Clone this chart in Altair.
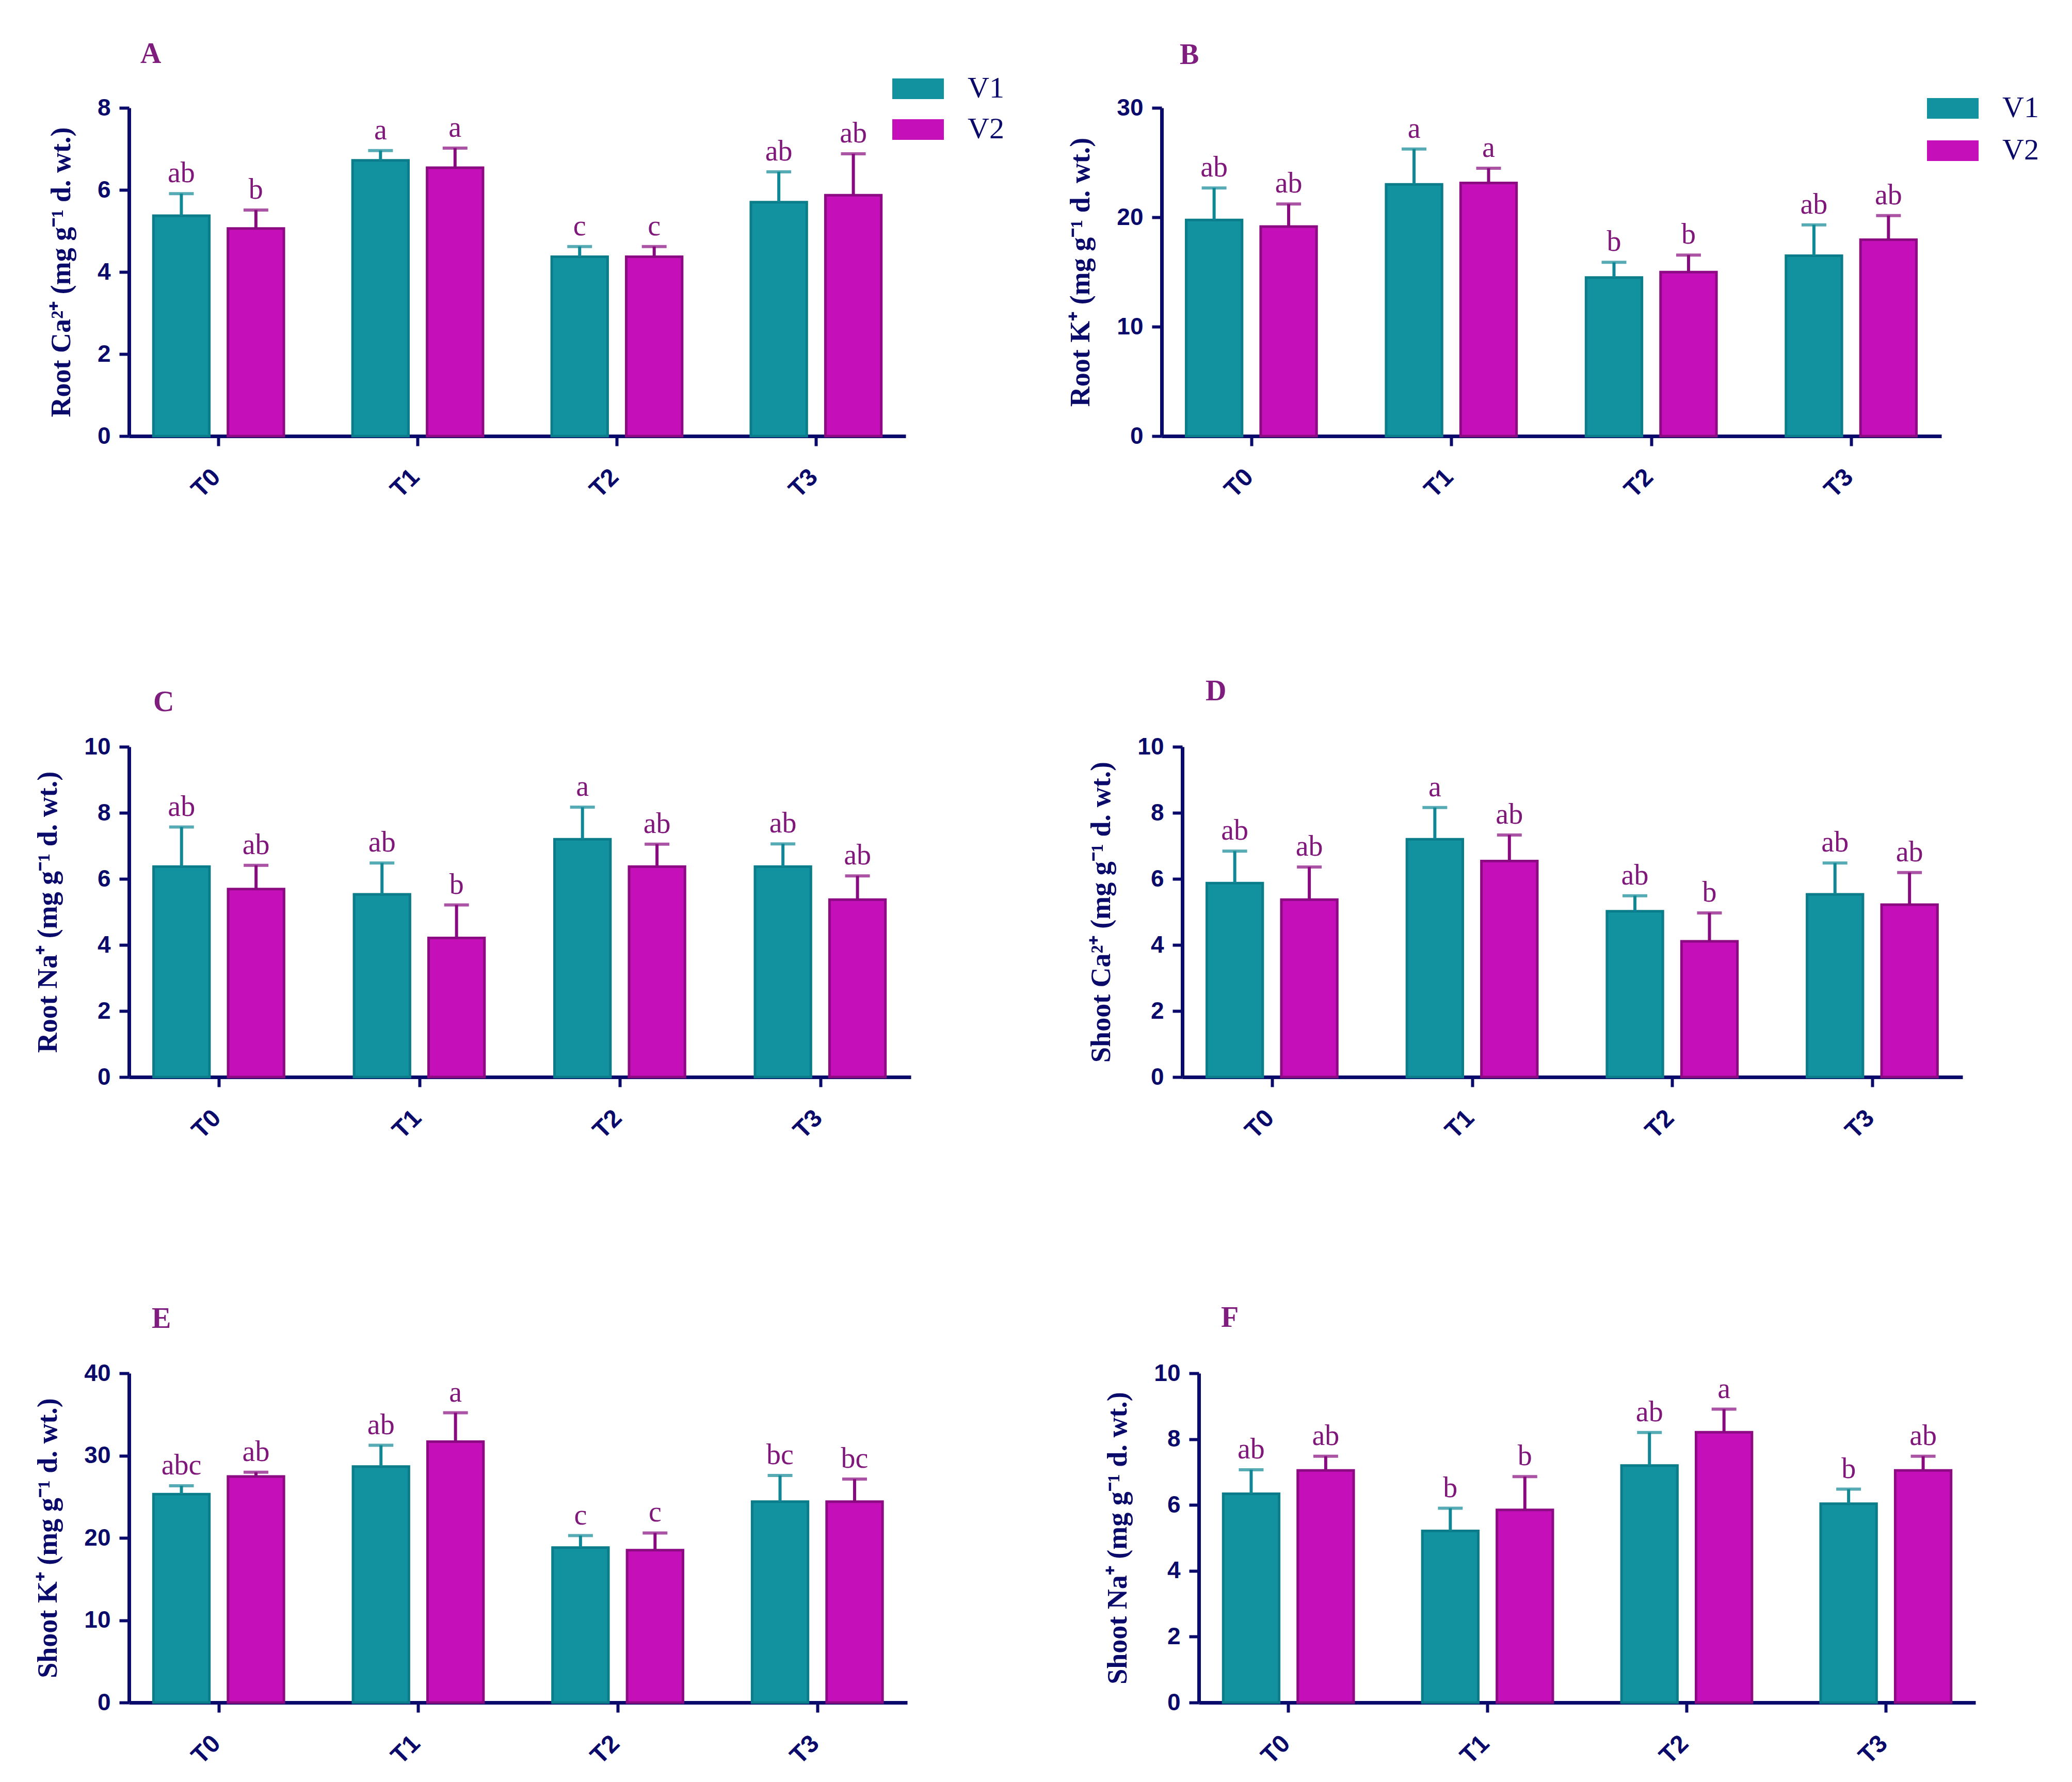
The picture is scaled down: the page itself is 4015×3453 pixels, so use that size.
import altair as alt
import pandas as pd

treatments = ["T0", "T1", "T2", "T3"]
varieties = ["V1", "V2"]

# Panel A - Root Ca2+
a_v1 = [5.37, 6.72, 4.37, 5.70]
a_v2 = [5.06, 6.54, 4.37, 5.87]
a_v1_sd = [0.54, 0.24, 0.25, 0.74]
a_v2_sd = [0.45, 0.48, 0.25, 1.01]
a_v1_let = ["ab", "a", "c", "ab"]
a_v2_let = ["b", "a", "c", "ab"]

# Panel B - Root K+
b_v1 = [19.75, 23.01, 14.49, 16.48]
b_v2 = [19.15, 23.14, 14.99, 17.95]
b_v1_sd = [2.93, 3.23, 1.39, 2.83]
b_v2_sd = [2.06, 1.34, 1.56, 2.20]
b_v1_let = ["ab", "a", "b", "ab"]
b_v2_let = ["ab", "a", "b", "ab"]

# Panel C - Root Na+
c_v1 = [6.37, 5.53, 7.20, 6.37]
c_v2 = [5.69, 4.21, 6.37, 5.37]
c_v1_sd = [1.20, 0.95, 0.97, 0.69]
c_v2_sd = [0.72, 1.00, 0.68, 0.72]
c_v1_let = ["ab", "ab", "a", "ab"]
c_v2_let = ["ab", "b", "ab", "ab"]

# Panel D - Shoot Ca2+
d_v1 = [5.87, 7.20, 5.02, 5.53]
d_v2 = [5.37, 6.54, 4.11, 5.22]
d_v1_sd = [0.97, 0.96, 0.47, 0.95]
d_v2_sd = [0.99, 0.79, 0.86, 0.97]
d_v1_let = ["ab", "a", "ab", "ab"]
d_v2_let = ["ab", "ab", "b", "ab"]

# Panel E - Shoot K+
e_v1 = [25.32, 28.67, 18.83, 24.40]
e_v2 = [27.46, 31.69, 18.51, 24.40]
e_v1_sd = [1.01, 2.58, 1.45, 3.18]
e_v2_sd = [0.52, 3.51, 2.09, 2.74]
e_v1_let = ["abc", "ab", "c", "bc"]
e_v2_let = ["ab", "a", "c", "bc"]

# Panel F - Shoot Na+
f_v1 = [6.34, 5.21, 7.20, 6.04]
f_v2 = [7.05, 5.85, 8.21, 7.05]
f_v1_sd = [0.73, 0.69, 1.00, 0.44]
f_v2_sd = [0.43, 1.01, 0.70, 0.43]
f_v1_let = ["ab", "b", "ab", "b"]
f_v2_let = ["ab", "b", "a", "ab"]

NAVY = "#0A0A6A"
TEAL = "#12919F"
TEAL_EDGE = "#0B7D8A"
MAGENTA = "#C50FB8"
MAGENTA_EDGE = "#8C0A82"
ERR_TEAL = "#0F8795"
ERR_PURPLE = "#870A7E"
LETTER = "#80177A"
PANEL = "#7F1D7F"
SERIF = "Liberation Serif"
SANS = "Liberation Sans"


def make_df(v1, v2, s1, s2, l1, l2):
    rows = []
    for i, t in enumerate(treatments):
        rows.append({"Treatment": t, "Variety": "V1", "Mean": v1[i],
                     "Upper": round(v1[i] + s1[i], 3), "Letter": l1[i]})
        rows.append({"Treatment": t, "Variety": "V2", "Mean": v2[i],
                     "Upper": round(v2[i] + s2[i], 3), "Letter": l2[i]})
    return pd.DataFrame(rows)


def panel(letter, ytitle, ymax, ystep, data, width, height,
          title_dx, title_offset, legend=None):
    df = make_df(*data)
    ticks = list(range(0, ymax + 1, ystep))

    def yenc(field):
        return alt.Y(field, scale=alt.Scale(domain=[0, ymax], nice=False, zero=True),
                     title=ytitle, axis=alt.Axis(values=ticks))

    base = alt.Chart(df).encode(
        x=alt.X("Treatment:N", sort=treatments, title=None,
                scale=alt.Scale(paddingInner=0.345, paddingOuter=0.1225)),
        xOffset=alt.XOffset("Variety:N", sort=varieties,
                            scale=alt.Scale(paddingInner=0.25, paddingOuter=0)),
    )
    bars = base.mark_bar(strokeWidth=5).encode(
        y=yenc("Mean:Q"),
        fill=alt.Fill("Variety:N", sort=varieties,
                      scale=alt.Scale(domain=varieties, range=[TEAL, MAGENTA]),
                      legend=legend),
        stroke=alt.Stroke("Variety:N", sort=varieties,
                          scale=alt.Scale(domain=varieties,
                                          range=[TEAL_EDGE, MAGENTA_EDGE]),
                          legend=None),
    )
    errc = alt.Color("Variety:N", sort=varieties,
                     scale=alt.Scale(domain=varieties, range=[ERR_TEAL, ERR_PURPLE]),
                     legend=None)
    rule = base.mark_rule(strokeWidth=6).encode(
        y=yenc("Mean:Q"),
        y2="Upper:Q",
        color=errc,
    )
    cap = base.mark_tick(size=48, thickness=6, orient="horizontal").encode(
        y=yenc("Upper:Q"),
        color=errc,
    )
    text = base.mark_text(font=SERIF, fontSize=56, color=LETTER,
                          baseline="alphabetic", dy=-22).encode(
        y=yenc("Upper:Q"),
        text="Letter:N",
    )
    return alt.layer(bars, rule, cap, text).properties(
        width=width, height=height,
        title=alt.TitleParams(letter, anchor="start", frame="group",
                              dx=title_dx, offset=title_offset, font=SERIF,
                              fontSize=56, fontWeight="bold", color=PANEL),
    )


def legend_at(x, y, row_pad):
    return alt.Legend(orient="none", legendX=x, legendY=y, title=None,
                      symbolType="M-1,-0.4H1V0.4H-1Z", symbolSize=10000,
                      symbolStrokeWidth=0, labelFont=SERIF, labelFontSize=58,
                      labelColor=NAVY, labelOffset=46, rowPadding=row_pad,
                      padding=0, direction="vertical")


A = panel("A", "Root Ca²⁺ (mg g⁻¹ d. wt.)", 8, 2,
          (a_v1, a_v2, a_v1_sd, a_v2_sd, a_v1_let, a_v2_let), 1505, 636, 22, -12,
          legend=legend_at(1479, -87, -3))
B = panel("B", "Root K⁺ (mg g⁻¹ d. wt.)", 30, 10,
          (b_v1, b_v2, b_v1_sd, b_v2_sd, b_v1_let, b_v2_let), 1511, 636, 35, 24,
          legend=legend_at(1483, -49, 3))
C = panel("C", "Root Na⁺ (mg g⁻¹ d. wt.)", 10, 2,
          (c_v1, c_v2, c_v1_sd, c_v2_sd, c_v1_let, c_v2_let), 1515, 640, 47, 34)
D = panel("D", "Shoot Ca²⁺ (mg g⁻¹ d. wt.)", 10, 2,
          (d_v1, d_v2, d_v1_sd, d_v2_sd, d_v1_let, d_v2_let), 1512, 640, 45, 55)
E = panel("E", "Shoot K⁺ (mg g⁻¹ d. wt.)", 40, 10,
          (e_v1, e_v2, e_v1_sd, e_v2_sd, e_v1_let, e_v2_let), 1508, 638, 44, 53)
F = panel("F", "Shoot Na⁺ (mg g⁻¹ d. wt.)", 10, 2,
          (f_v1, f_v2, f_v1_sd, f_v2_sd, f_v1_let, f_v2_let), 1505, 638, 43, 55)


def row(left, right, gap):
    return alt.hconcat(left, right, spacing=gap, bounds="flush").resolve_scale(
        fill="independent").resolve_legend(fill="independent")


row1 = row(A, B, 496)
row2 = row(C, D, 526)
row3 = row(E, F, 565)

top = alt.vconcat(row1, row2, spacing=338).resolve_scale(
    fill="independent").resolve_legend(fill="independent")
chart = alt.vconcat(top, row3, spacing=310).resolve_scale(
    fill="independent").resolve_legend(fill="independent").properties(
    padding={"left": 58, "top": 69, "right": 10, "bottom": 10},
    background="white",
).configure_view(stroke=None).configure_axis(
    grid=False, domainColor=NAVY, domainWidth=7, tickColor=NAVY, tickWidth=6,
    tickSize=19, labelFont=SANS, labelFontWeight="bold", labelFontSize=46,
    labelColor=NAVY, titleFont=SERIF, titleFontWeight="bold", titleFontSize=54,
    titleColor=NAVY,
).configure_axisX(
    labelAngle=-45, labelAlign="right", labelBaseline="middle",
    labelPadding=53, labelOffset=-4, labelFontSize=48,
).configure_axisY(
    labelPadding=17, titlePadding=42,
)

chart.save("out.html", embed_options={"renderer": "svg", "actions": False})
